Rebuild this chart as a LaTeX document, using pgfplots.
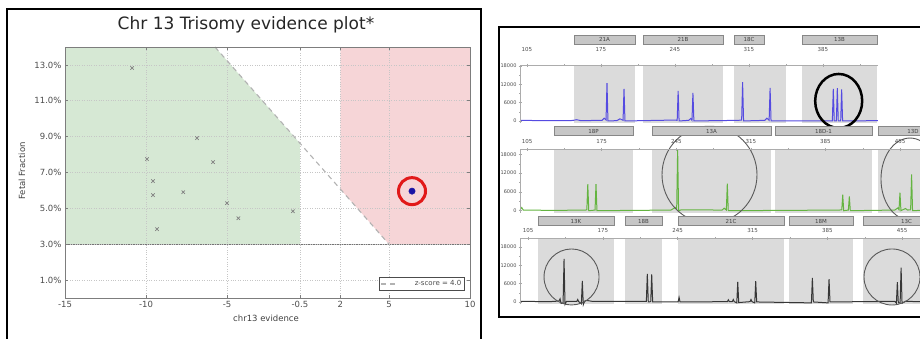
\documentclass[border=0pt]{standalone}
\usepackage{pgfplots}
\pgfplotsset{compat=1.18}
\usepackage{fontspec}
\setmainfont{DejaVu Sans}
\definecolor{greg}{RGB}{214,232,212}
\definecolor{pinkr}{RGB}{246,213,215}
\definecolor{axgray}{RGB}{125,125,125}
\definecolor{bluetr}{RGB}{85,75,225}
\definecolor{greentr}{RGB}{100,180,65}
\definecolor{blacktr}{RGB}{55,55,55}
\definecolor{binfill}{RGB}{219,219,219}
\definecolor{boxfill}{RGB}{198,198,198}
\definecolor{boxdraw}{RGB}{135,135,135}
\definecolor{dotblue}{RGB}{25,20,165}
\definecolor{ringred}{RGB}{225,25,25}

\newcommand{\labbox}[5]{%
  \draw[fill=boxfill,draw=boxdraw,line width=0.6pt] (axis cs:#1,#3) rectangle (axis cs:#2,#4);
  \node[font=\fontsize{5.5}{6}\selectfont,text=black!75] at (axis cs:{(#1+#2)/2},{(#3+#4)/2}) {#5};}

\pgfplotsset{
  ephero/.style={
    scale only axis, anchor=south west, clip=false, axis on top,
    axis x line*=top, axis y line*=left,
    axis line style={gray!65,line width=0.5pt},
    tick style={gray!70,line width=0.4pt},
    tick align=center, major tick length=3pt, minor tick length=2pt,
    xtick={105,175,245,315,385,455},
    minor xtick={140,210,280,350,420},
    ytick={0,6000,12000,18000},
    minor ytick={3000,9000,15000},
    scaled y ticks=false,
    /pgf/number format/1000 sep={},
    /pgf/number format/assume math mode=true,
    xticklabel style={font=\fontsize{5.5}{6}\selectfont,text=black!70},
    yticklabel style={font=\fontsize{5}{6}\selectfont,text=black!70,xshift=1.5pt},
  },
  trace/.style={line width=1pt, forget plot},
}

\begin{document}
\begin{tikzpicture}[x=1pt,y=1pt]
\useasboundingbox (0,0) rectangle (920,338);
\clip (0,0) rectangle (920,338);

% ---------------- left panel ----------------
\draw[line width=2pt,black] (7,-10) -- (7,329) -- (481,329) -- (481,-10);
\node[font=\fontsize{17}{20}\selectfont,text=black!85] at (246,313) {Chr 13 Trisomy evidence plot*};
\node[font=\fontsize{8.5}{10}\selectfont,text=black!75,rotate=90] at (22,167) {Fetal Fraction};
\node[font=\fontsize{8.5}{10}\selectfont,text=black!75] at (266,20) {chr13 evidence};

\begin{axis}[at={(65pt,40pt)}, anchor=south west, scale only axis,
  width=405pt, height=251pt,
  xmin=-15, xmax=10, ymin=0, ymax=14,
  axis on top, clip=false,
  xtick={-15,-10,-5,-0.5,2,5,10},
  xticklabels={-15,-10,-5,-0.5,2,5,10},
  ytick={1,3,5,7,9,11,13},
  yticklabels={1.0\%,3.0\%,5.0\%,7.0\%,9.0\%,11.0\%,13.0\%},
  grid=major, grid style={dotted,gray!45,line width=0.6pt},
  axis line style={axgray,line width=1pt},
  tick style={axgray,line width=0.6pt}, major tick length=3pt, tick align=inside,
  tick label style={font=\fontsize{8.5}{10}\selectfont,text=black!70},
  legend style={at={(0.988,0.027)}, anchor=south east, draw=black!70, line width=0.8pt,
    font=\fontsize{7}{8}\selectfont, text=black!70, inner sep=1.5pt},
  legend cell align=left,
]
\addplot[fill=greg, draw=none, forget plot] coordinates {(-15,3) (-15,14) (-5.74,14) (-0.5,8.63) (-0.5,3)} -- cycle;
\addplot[fill=pinkr, draw=none, forget plot] coordinates {(2,14) (10,14) (10,3) (5,3) (2,6.07)} -- cycle;
\addplot[color=black!55, line width=1.2pt, forget plot] coordinates {(-15,3) (10,3)};
\addplot[color=gray!60, line width=1.1pt, dash pattern=on 5pt off 4pt] coordinates {(-5.74,14) (5,3)};
\addlegendentry{\hspace*{14pt}z-score = 4.0}
\addplot[only marks, mark=x, mark size=2.4pt, color=black!50, line width=0.7pt, forget plot] coordinates {
 (-10.86,12.83) (-9.94,7.75) (-6.85,8.92) (-5.86,7.58) (-9.57,6.52) (-9.57,5.74)
 (-9.32,3.84) (-7.7,5.9) (-5.0,5.29) (-4.3,4.45) (-0.93,4.84)};
\addplot[only marks, mark=*, mark size=3.2pt, color=dotblue, forget plot] coordinates {(6.42,5.96)};
\addplot[only marks, mark=o, mark size=13.5pt, color=ringred, line width=3pt, forget plot] coordinates {(6.42,5.96)};
\end{axis}

% ---------------- right panel ----------------
\draw[line width=2.4pt,black] (499,21) rectangle (935,311);

% panel 1 (blue)
\begin{axis}[ephero, at={(520pt,214.6pt)}, width=358pt, height=58.4pt,
  xmin=98.4, xmax=437.1, ymin=-800, ymax=18300,
  xticklabel style={yshift=8pt}]
\addplot[fill=binfill, draw=none, forget plot] coordinates {(149.5,-800) (149.5,18300) (207.2,18300) (207.2,-800)} -- cycle;
\addplot[fill=binfill, draw=none, forget plot] coordinates {(214.7,-800) (214.7,18300) (290.4,18300) (290.4,-800)} -- cycle;
\addplot[fill=binfill, draw=none, forget plot] coordinates {(300.8,-800) (300.8,18300) (350,18300) (350,-800)} -- cycle;
\addplot[fill=binfill, draw=none, forget plot] coordinates {(365.2,-800) (365.2,18300) (436,18300) (436,-800)} -- cycle;
\addplot[trace, color=bluetr] coordinates {
 (98.5,200) (120,100) (148,150) (152,400) (156,100) (176,200) (178,900) (179.8,300) (180.7,12400) (181.6,0)
 (190,100) (193,700) (195.9,200) (196.8,10500) (197.7,0) (215,100) (245,300) (247.1,200) (248,9800) (248.9,0)
 (258,200) (260,800) (261.1,200) (262,9200) (262.9,0) (305,200) (308.1,300) (309,12700) (309.9,0)
 (330,200) (332,900) (334.1,200) (335,10800) (335.9,0) (393.9,0) (394.8,10500) (395.7,0)
 (397.7,0) (398.6,10700) (399.5,0) (401.8,0) (402.7,10300) (403.6,0) (437,100)};
\draw[line width=2.5pt,black] (axis cs:399.9,6540) ellipse [x radius=23.5pt, y radius=27pt];
\labbox{149.5}{207.2}{25200}{27900}{21A}
\labbox{214.7}{290.4}{25200}{27900}{21B}
\labbox{300.8}{329.5}{25200}{27900}{18C}
\labbox{365.2}{436}{25200}{27900}{13B}
\end{axis}

% panel 2 (green)
\begin{axis}[ephero, at={(520pt,124.8pt)}, width=400pt, height=63.9pt,
  xmin=98.4, xmax=473.7, ymin=-800, ymax=19600,
  xticklabel style={yshift=1pt}]
\addplot[fill=binfill, draw=none, forget plot] coordinates {(130.3,-800) (130.3,19600) (204.4,19600) (204.4,-800)} -- cycle;
\addplot[fill=binfill, draw=none, forget plot] coordinates {(222.3,-800) (222.3,19600) (334,19600) (334,-800)} -- cycle;
\addplot[fill=binfill, draw=none, forget plot] coordinates {(337.6,-800) (337.6,19600) (428.6,19600) (428.6,-800)} -- cycle;
\addplot[fill=binfill, draw=none, forget plot] coordinates {(434.3,-800) (434.3,19600) (480,19600) (480,-800)} -- cycle;
\addplot[trace, color=greentr] coordinates {
 (98.5,300) (100,1000) (101.5,200) (130,100) (160,200) (161.1,300) (162,8500) (162.9,0)
 (168.8,200) (169.7,8500) (170.6,0) (240,200) (244,1000) (245.4,500) (246.3,19600) (247.2,0) (250,300)
 (288,200) (290,800) (292,200) (292.9,8600) (293.8,0) (398,200) (400.3,300) (401.2,5100) (402.1,0)
 (406.5,200) (407.4,4600) (408.3,0) (450,200) (453,900) (454,300) (454.9,5750) (455.8,0)
 (460,700) (462,200) (464.9,300) (465.8,11600) (466.7,0) (473.5,100)};
\draw[line width=0.9pt,black!65] (axis cs:276.2,11490) ellipse [x radius=47.5pt, y radius=48.5pt];
\draw[line width=0.9pt,black!65] (axis cs:464.3,10110) ellipse [x radius=29pt, y radius=41pt];
\labbox{130.3}{204.4}{24000}{26800}{18P}
\labbox{222.3}{334}{24000}{26800}{13A}
\labbox{337.6}{428.6}{24000}{26800}{18D-1}
\labbox{434.3}{500}{24000}{26800}{13D}
\end{axis}

% panel 3 (black)
\begin{axis}[ephero, at={(520pt,33.6pt)}, width=400pt, height=66.3pt,
  xmin=97.5, xmax=471.7, ymin=-800, ymax=20900,
  xticklabel style={yshift=0pt}]
\addplot[fill=binfill, draw=none, forget plot] coordinates {(114.4,-800) (114.4,20900) (185.4,20900) (185.4,-800)} -- cycle;
\addplot[fill=binfill, draw=none, forget plot] coordinates {(195.7,-800) (195.7,20900) (230.3,20900) (230.3,-800)} -- cycle;
\addplot[fill=binfill, draw=none, forget plot] coordinates {(245.3,-800) (245.3,20900) (344.5,20900) (344.5,-800)} -- cycle;
\addplot[fill=binfill, draw=none, forget plot] coordinates {(349.1,-800) (349.1,20900) (409,20900) (409,-800)} -- cycle;
\addplot[fill=binfill, draw=none, forget plot] coordinates {(418.4,-800) (418.4,20900) (480,20900) (480,-800)} -- cycle;
\addplot[trace, color=blacktr] coordinates {
 (98,200) (125,100) (134,300) (135,1000) (136,-500) (137.8,-300) (138.7,14100) (139.6,-800) (141,200)
 (150.6,200) (151.5,800) (152.4,100) (154.9,-600) (155.8,6900) (156.7,-900) (158,300) (160,500) (165,200)
 (215.7,200) (216.6,9200) (217.5,0) (219.8,100) (220.7,9000) (221.6,0) (245.4,0) (246.3,1500) (247.2,0)
 (291.5,100) (292.4,700) (293.3,100) (296.1,100) (297,800) (297.9,100) (300.3,-300) (301.2,6600) (302.1,-200)
 (312.7,100) (313.6,800) (314.5,100) (317.1,-300) (318,6800) (318.9,0) (370.1,-300) (371,7900) (371.9,0)
 (385.7,-300) (386.6,7500) (387.5,0) (448,200) (449.6,-400) (450.5,6500) (451.4,-300)
 (453.1,-300) (454,11200) (454.9,-400) (458,200) (471.5,100)};
\draw[line width=0.9pt,black!65] (axis cs:145.7,8180) ellipse [x radius=27.5pt, y radius=28pt];
\draw[line width=0.9pt,black!65] (axis cs:445.5,8180) ellipse [x radius=28pt, y radius=28pt];
\labbox{114.4}{185.4}{25000}{27900}{13K}
\labbox{195.7}{230.3}{25000}{27900}{18B}
\labbox{245.3}{344.5}{25000}{27900}{21C}
\labbox{349.1}{409}{25000}{27900}{18M}
\labbox{418.4}{500}{25000}{27900}{13C}
\end{axis}
\end{tikzpicture}
\end{document}
